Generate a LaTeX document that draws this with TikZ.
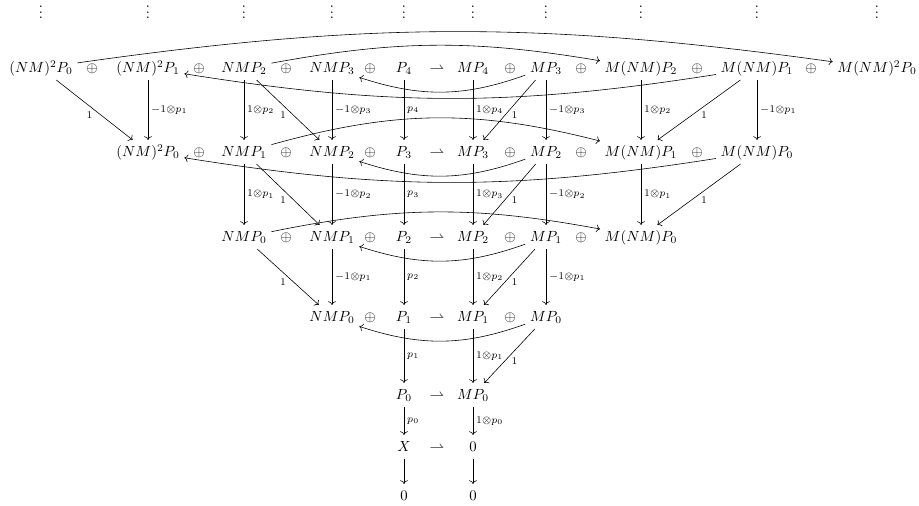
\documentclass[tikz,border=0pt]{standalone}
\usepackage{amsmath,amssymb}
\usetikzlibrary{arrows.meta}

\begin{document}
\begin{tikzpicture}[
  x=0.68pt,y=0.68pt,
  obj/.style={inner sep=3pt,text height=8pt,text depth=2pt},
  vdot/.style={anchor=base,inner sep=0pt},
  map/.style={-{To}},
  lbl/.style={inner sep=2pt},
  one/.style={inner sep=1.2pt}
]
  \useasboundingbox (0,0) rectangle (919,506);
  % Dots
  \node[vdot] (v0) at (41,487) {$\vdots$};
  \node[vdot] (v1) at (148,487) {$\vdots$};
  \node[vdot] (v2) at (244,487) {$\vdots$};
  \node[vdot] (v3) at (332,487) {$\vdots$};
  \node[vdot] (v4) at (404,487) {$\vdots$};
  \node[vdot] (v5) at (473,487) {$\vdots$};
  \node[vdot] (v6) at (546,487) {$\vdots$};
  \node[vdot] (v7) at (641,487) {$\vdots$};
  \node[vdot] (v8) at (757,487) {$\vdots$};
  \node[vdot] (v9) at (877,487) {$\vdots$};
  % Row 1
  \node[obj] (a0) at (41,438) {$(NM)^2P_0$};
  \node[obj] (a1) at (148,438) {$(NM)^2P_1$};
  \node[obj] (a2) at (244,438) {$NMP_2$};
  \node[obj] (a3) at (332,438) {$NMP_3$};
  \node[obj] (a4) at (404,438) {$P_4$};
  \node[obj] (a5) at (473,438) {$MP_4$};
  \node[obj] (a6) at (546,438) {$MP_3$};
  \node[obj] (a7) at (641,438) {$M(NM)P_2$};
  \node[obj] (a8) at (757,438) {$M(NM)P_1$};
  \node[obj] (a9) at (877,438) {$M(NM)^2P_0$};
  \foreach \x/\n in {92/1,199/2,286/3,370/4,510/5,581/6,697/7,811/8}
    \node[obj] (ap\n) at (\x,438) {$\oplus$};
  \node[obj] (ah) at (437,438) {$\rightharpoonup$};
  % Row 2
  \node[obj] (b1) at (148,354) {$(NM)^2P_0$};
  \node[obj] (b2) at (244,354) {$NMP_1$};
  \node[obj] (b3) at (332,354) {$NMP_2$};
  \node[obj] (b4) at (404,354) {$P_3$};
  \node[obj] (b5) at (473,354) {$MP_3$};
  \node[obj] (b6) at (546,354) {$MP_2$};
  \node[obj] (b7) at (641,354) {$M(NM)P_1$};
  \node[obj] (b8) at (757,354) {$M(NM)P_0$};
  \foreach \x/\n in {199/2,286/3,370/4,510/5,581/6,697/7}
    \node[obj] (bp\n) at (\x,354) {$\oplus$};
  \node[obj] (bh) at (437,354) {$\rightharpoonup$};
  % Row 3
  \node[obj] (c2) at (244,269) {$NMP_0$};
  \node[obj] (c3) at (332,269) {$NMP_1$};
  \node[obj] (c4) at (404,269) {$P_2$};
  \node[obj] (c5) at (473,269) {$MP_2$};
  \node[obj] (c6) at (546,269) {$MP_1$};
  \node[obj] (c7) at (641,269) {$M(NM)P_0$};
  \foreach \x/\n in {286/3,370/4,510/5,581/6}
    \node[obj] (cp\n) at (\x,269) {$\oplus$};
  \node[obj] (ch) at (437,269) {$\rightharpoonup$};
  % Row 4
  \node[obj] (d3) at (332,189) {$NMP_0$};
  \node[obj] (d4) at (404,189) {$P_1$};
  \node[obj] (d5) at (473,189) {$MP_1$};
  \node[obj] (d6) at (546,189) {$MP_0$};
  \node[obj] (dp4) at (370,189) {$\oplus$};
  \node[obj] (dp5) at (510,189) {$\oplus$};
  \node[obj] (dh) at (437,189) {$\rightharpoonup$};
  % Rows 5 to 7
  \node[obj] (e4) at (404,111) {$P_0$};
  \node[obj] (e5) at (473,111) {$MP_0$};
  \node[obj] (eh) at (437,111) {$\rightharpoonup$};
  \node[obj] (f4) at (404,59) {$X$};
  \node[obj] (f5) at (473,59) {$0$};
  \node[obj] (fh) at (437,59) {$\rightharpoonup$};
  \node[obj] (g4) at (404,10) {$0$};
  \node[obj] (g5) at (473,10) {$0$};
  % Row 1 to row 2
  \draw[map] (a0) -- node[below left,one] {$\scriptstyle 1$} (b1);
  \draw[map] (a1) -- node[right,lbl] {$\scriptstyle -1\otimes p_1$} (b1);
  \draw[map] (a2) -- node[right,lbl] {$\scriptstyle 1\otimes p_2$} (b2);
  \draw[map] (a2) -- node[below left,one] {$\scriptstyle 1$} (b3);
  \draw[map] (a3) -- node[right,lbl] {$\scriptstyle -1\otimes p_3$} (b3);
  \draw[map] (a4) -- node[right,lbl] {$\scriptstyle p_4$} (b4);
  \draw[map] (a5) -- node[right,lbl] {$\scriptstyle 1\otimes p_4$} (b5);
  \draw[map] (a6) -- node[below right,one] {$\scriptstyle 1$} (b5);
  \draw[map] (a6) -- node[right,lbl] {$\scriptstyle -1\otimes p_3$} (b6);
  \draw[map] (a7) -- node[right,lbl] {$\scriptstyle 1\otimes p_2$} (b7);
  \draw[map] (a8) -- node[below right,one] {$\scriptstyle 1$} (b7);
  \draw[map] (a8) -- node[right,lbl] {$\scriptstyle -1\otimes p_1$} (b8);
  % Row 2 to row 3
  \draw[map] (b2) -- node[right,lbl] {$\scriptstyle 1\otimes p_1$} (c2);
  \draw[map] (b2) -- node[below left,one] {$\scriptstyle 1$} (c3);
  \draw[map] (b3) -- node[right,lbl] {$\scriptstyle -1\otimes p_2$} (c3);
  \draw[map] (b4) -- node[right,lbl] {$\scriptstyle p_3$} (c4);
  \draw[map] (b5) -- node[right,lbl] {$\scriptstyle 1\otimes p_3$} (c5);
  \draw[map] (b6) -- node[below right,one] {$\scriptstyle 1$} (c5);
  \draw[map] (b6) -- node[right,lbl] {$\scriptstyle -1\otimes p_2$} (c6);
  \draw[map] (b7) -- node[right,lbl] {$\scriptstyle 1\otimes p_1$} (c7);
  \draw[map] (b8) -- node[below right,one] {$\scriptstyle 1$} (c7);
  % Row 3 to row 4
  \draw[map] (c2) -- node[below left,one] {$\scriptstyle 1$} (d3);
  \draw[map] (c3) -- node[right,lbl] {$\scriptstyle -1\otimes p_1$} (d3);
  \draw[map] (c4) -- node[right,lbl] {$\scriptstyle p_2$} (d4);
  \draw[map] (c5) -- node[right,lbl] {$\scriptstyle 1\otimes p_2$} (d5);
  \draw[map] (c6) -- node[below right,one] {$\scriptstyle 1$} (d5);
  \draw[map] (c6) -- node[right,lbl] {$\scriptstyle -1\otimes p_1$} (d6);
  % Row 4 down
  \draw[map] (d4) -- node[right,lbl] {$\scriptstyle p_1$} (e4);
  \draw[map] (d5) -- node[right,lbl] {$\scriptstyle 1\otimes p_1$} (e5);
  \draw[map] (d6) -- node[below right,one] {$\scriptstyle 1$} (e5);
  \draw[map] (e4) -- node[right,lbl] {$\scriptstyle p_0$} (f4);
  \draw[map] (e5) -- node[right,lbl] {$\scriptstyle 1\otimes p_0$} (f5);
  \draw[map] (f4) -- (g4);
  \draw[map] (f5) -- (g5);
  % Bent maps along the rows
  \draw[map] (a0) to[bend left=8] (a9);
  \draw[map] (a2) to[bend left=10] (a7);
  \draw[map] (a6) to[bend left=19] (a3);
  \draw[map] (a8) to[bend left=9] (a1);
  \draw[map] (b2) to[bend left=15] (b7);
  \draw[map] (b6) to[bend left=19] (b3);
  \draw[map] (b8) to[bend left=9] (b1);
  \draw[map] (c2) to[bend left=11] (c7);
  \draw[map] (c6) to[bend left=19] (c3);
  \draw[map] (d6) to[bend left=19] (d3);
\end{tikzpicture}
\end{document}
